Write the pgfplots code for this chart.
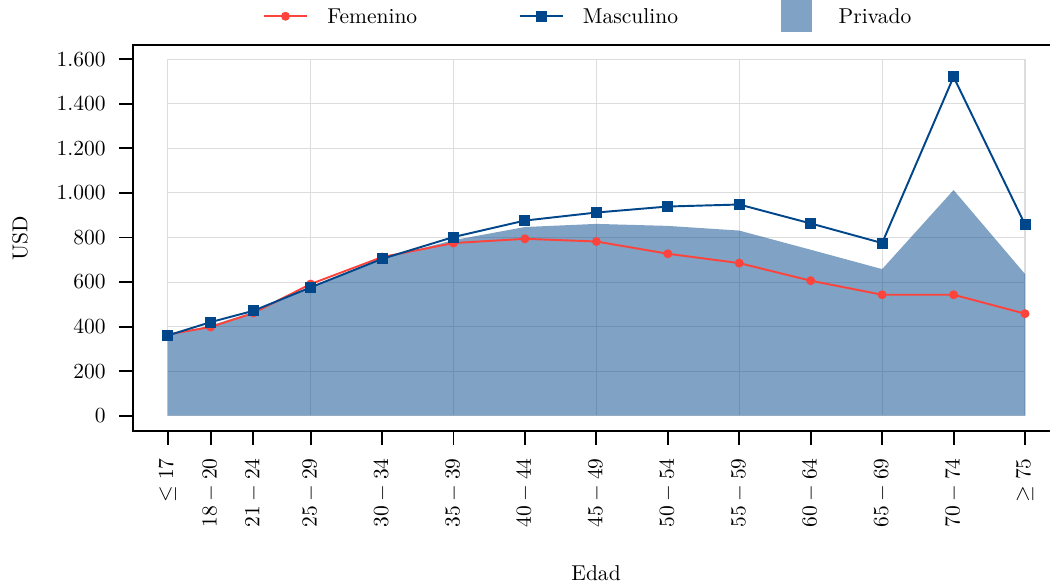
\documentclass[border=0pt]{standalone}
\usepackage{pgfplots}
\pgfplotsset{compat=1.18}
\definecolor{fem}{HTML}{FC443C}
\definecolor{masc}{HTML}{00468B}
\definecolor{gridc}{HTML}{DDDDDD}
\pgfplotsset{
  linelegend/.style={legend image code/.code={\draw[mark repeat=2,mark phase=2,##1] plot coordinates {(0pt,0pt) (10pt,0pt) (20pt,0pt)};}},
  arealegend/.style={legend image code/.code={\path[draw=none] (-0.45pt,0pt) -- (20.45pt,0pt); \path[fill=masc, fill opacity=0.5, draw=none] (2.75pt,-7.5pt) rectangle (17.25pt,7.5pt);}},
}
\newcommand{\legtext}[1]{\makebox[98pt][l]{\hspace{9pt}#1}}
\begin{document}
\begin{tikzpicture}
\begin{axis}[
  at={(61.85pt,71.15pt)}, anchor=south west,
  scale only axis, width=431.06pt, height=179.49pt,
  xmin=14.57, xmax=79.45, ymin=-68.6, ymax=1664,
  axis line style={line width=0.9pt},
  tick align=outside, major tick length=6.5pt,
  every tick/.style={black, line width=0.9pt},
  xtick pos=bottom, ytick pos=left,
  xtick={17,20,23,27,32,37,42,47,52,57,62,67,72,77},
  xticklabels={$\leq 17$,$18-20$,$21-24$,$25-29$,$30-34$,$35-39$,$40-44$,$45-49$,$50-54$,$55-59$,$60-64$,$65-69$,$70-74$,$\geq 75$},
  xticklabel style={rotate=90, anchor=east},
  xticklabel shift=2.7pt, yticklabel shift=2.7pt,
  ytick={0,200,400,600,800,1000,1200,1400,1600},
  yticklabel style={/pgf/number format/1000 sep={.}},
  xlabel={Edad}, ylabel={USD},
  every axis x label/.style={at={(axis description cs:0.4995,-0.3679)}, anchor=center},
  every axis y label/.style={at={(axis description cs:-0.1219,0.5)}, rotate=90, anchor=center},
  legend columns=3,
  legend style={draw=none, fill=none, inner sep=0pt, at={(axis description cs:0.13975,1.0745)}, anchor=west,
    /tikz/every even column/.append style={column sep=0pt},
    /tikz/every odd column/.append style={column sep=0pt},
    nodes={inner sep=0pt, text depth=0pt}},
  legend cell align=left,
]
\draw[gridc, line width=0.5pt] (axis cs:17,0) -- (axis cs:77,0);
\draw[gridc, line width=0.5pt] (axis cs:17,200) -- (axis cs:77,200);
\draw[gridc, line width=0.5pt] (axis cs:17,400) -- (axis cs:77,400);
\draw[gridc, line width=0.5pt] (axis cs:17,600) -- (axis cs:77,600);
\draw[gridc, line width=0.5pt] (axis cs:17,800) -- (axis cs:77,800);
\draw[gridc, line width=0.5pt] (axis cs:17,1000) -- (axis cs:77,1000);
\draw[gridc, line width=0.5pt] (axis cs:17,1200) -- (axis cs:77,1200);
\draw[gridc, line width=0.5pt] (axis cs:17,1400) -- (axis cs:77,1400);
\draw[gridc, line width=0.5pt] (axis cs:17,1600) -- (axis cs:77,1600);
\draw[gridc, line width=0.5pt] (axis cs:17,0) -- (axis cs:17,1600);
\draw[gridc, line width=0.5pt] (axis cs:27,0) -- (axis cs:27,1600);
\draw[gridc, line width=0.5pt] (axis cs:37,0) -- (axis cs:37,1600);
\draw[gridc, line width=0.5pt] (axis cs:47,0) -- (axis cs:47,1600);
\draw[gridc, line width=0.5pt] (axis cs:57,0) -- (axis cs:57,1600);
\draw[gridc, line width=0.5pt] (axis cs:67,0) -- (axis cs:67,1600);
\draw[gridc, line width=0.5pt] (axis cs:77,0) -- (axis cs:77,1600);

\addplot[draw=none, fill=masc, fill opacity=0.5, forget plot]
  coordinates {(17,362) (20,405) (23,465) (27,575) (32,705) (37,788) (42,847) (47,861) (52,852) (57,831) (62,745) (67,658) (72,1013) (77,636)} \closedcycle;
\addplot[fem, line width=0.9pt, mark=*, mark size=1.6pt, linelegend]
  coordinates {(17,365) (20,398) (23,461) (27,591) (32,712) (37,775) (42,794) (47,782) (52,727) (57,685) (62,606) (67,543) (72,543) (77,458)};
\addlegendentry{\legtext{Femenino}}
\addplot[masc, line width=0.9pt, mark=square*, mark size=2.1pt, linelegend]
  coordinates {(17,360) (20,420) (23,471) (27,576) (32,704) (37,802) (42,876) (47,912) (52,939) (57,948) (62,863) (67,775) (72,1521) (77,858)};
\addlegendentry{\legtext{Masculino}}
\addlegendimage{arealegend}
\addlegendentry{\legtext{Privado}}
\end{axis}
\pgfresetboundingbox
\useasboundingbox (0,0) rectangle (488.25pt,271.56pt);
\end{tikzpicture}
\end{document}
